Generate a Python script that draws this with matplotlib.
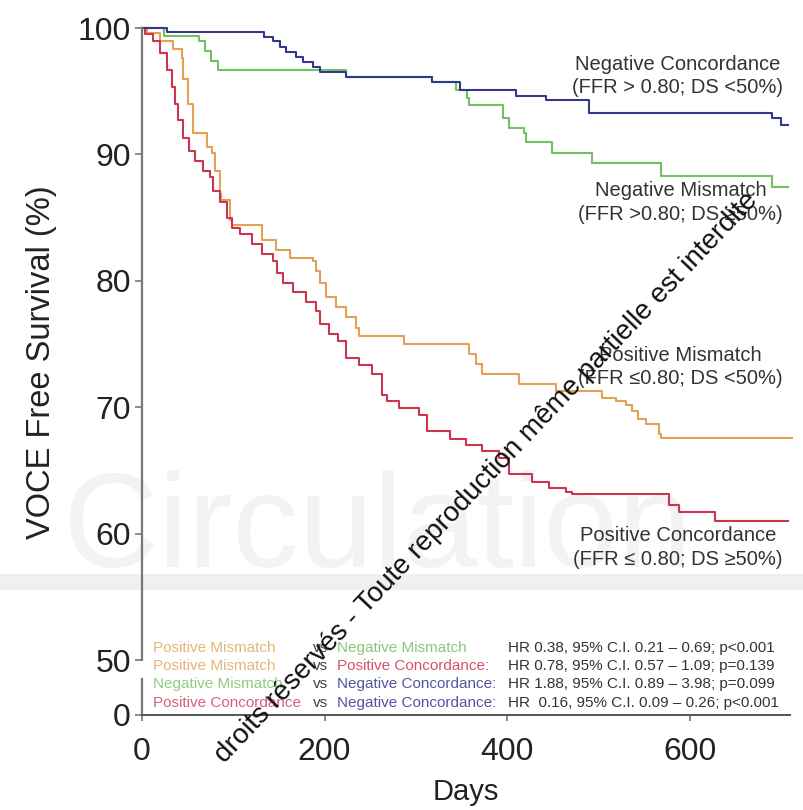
import matplotlib
matplotlib.use('Agg')
import matplotlib.pyplot as plt
from matplotlib.patches import Rectangle

plt.rcParams['font.family'] = ['Liberation Sans', 'DejaVu Sans']

# Kaplan-Meier curves (days, % free of VOCE)
pos_conc_days = [0, 3, 12, 20, 27, 33, 36, 39, 45, 52, 58, 67, 74, 78, 85, 93, 99, 107, 121, 132,
                 143, 148, 154, 165, 180, 191, 195, 205, 215, 224, 238, 252, 263, 268, 282, 304, 312, 337, 355, 373,
                 391, 402, 427, 446, 465, 471, 577, 588, 628, 708]
pos_conc_surv = [100, 99.5, 99.0, 98.0, 96.7, 95.3, 94.0, 92.7, 91.3, 90.3, 89.5, 88.7, 88.2, 87.1, 86.2, 85.0, 84.2, 83.7, 82.9, 82.1,
                 81.6, 80.6, 79.8, 79.1, 78.3, 77.6, 76.6, 75.8, 75.2, 73.9, 73.3, 72.6, 71.0, 70.5, 69.9, 69.4, 68.1, 67.5, 67.0, 66.5,
                 66.0, 64.7, 64.1, 63.6, 63.3, 63.1, 62.3, 61.7, 61.0, 61.0]

pos_mis_days = [0, 5, 20, 34, 44, 45, 50, 56, 71, 77, 80, 85, 87, 96, 99, 132, 147, 162, 187, 191,
                195, 202, 213, 224, 235, 238, 287, 358, 366, 373, 413, 454, 504, 519, 530, 537, 544, 552, 566, 569, 712]
pos_mis_surv = [100, 99.6, 99.0, 98.3, 97.6, 96.0, 94.0, 91.7, 90.6, 90.1, 88.7, 86.9, 86.4, 84.8, 84.4, 83.2, 82.4, 81.8, 81.6, 80.8,
                79.8, 78.7, 77.9, 77.1, 76.3, 75.6, 75.0, 74.2, 73.4, 72.6, 71.8, 71.3, 70.7, 70.5, 70.2, 69.7, 69.1, 68.7, 67.9, 67.6, 67.6]

neg_mis_days = [0, 24, 63, 69, 76, 83, 224, 318, 344, 356, 358, 395, 402, 419, 421, 449, 493, 569, 690, 708]
neg_mis_surv = [100, 99.4, 99.0, 98.2, 97.4, 96.7, 96.1, 95.7, 95.1, 94.5, 93.9, 92.9, 92.1, 91.7, 91.0, 90.1, 89.3, 88.3, 87.4, 87.4]

neg_conc_days = [0, 27, 134, 143, 151, 158, 169, 176, 187, 195, 224, 318, 348, 410, 443, 490, 690, 700, 708]
neg_conc_surv = [100, 99.7, 99.3, 99.0, 98.5, 98.1, 97.7, 97.3, 96.9, 96.5, 96.1, 95.7, 95.1, 94.6, 94.3, 93.3, 92.9, 92.3, 92.3]

orange = '#e3a253'
red = '#cc3552'
green = '#72c060'
blue = '#34378f'

y_ticks = [50, 60, 70, 80, 90, 100]
x_ticks = [0, 200, 400, 600]

curve_labels = [
    (96.2, 'Negative Concordance\n(FFR > 0.80; DS <50%)'),
    (86.2, 'Negative Mismatch\n(FFR >0.80; DS \u226550%)'),
    (73.2, 'Positive Mismatch\n(FFR \u22640.80; DS <50%)'),
    (58.9, 'Positive Concordance\n(FFR \u2264 0.80; DS \u226550%)'),
]

hr_rows = [
    ('Positive Mismatch', orange, 'Negative Mismatch', green, 'HR 0.38, 95% C.I. 0.21 \u2013 0.69; p<0.001'),
    ('Positive Mismatch', orange, 'Positive Concordance:', red, 'HR 0.78, 95% C.I. 0.57 \u2013 1.09; p=0.139'),
    ('Negative Mismatch', green, 'Negative Concordance:', blue, 'HR 1.88, 95% C.I. 0.89 \u2013 3.98; p=0.099'),
    ('Positive Concordance', red, 'Negative Concordance:', blue, 'HR  0.16, 95% C.I. 0.09 \u2013 0.26; p<0.001'),
]

W, H = 804, 810


def fx(px):
    return px / W


def fy(py):
    return 1 - py / H


fig = plt.figure(figsize=(8.04, 8.10), dpi=100)

# faint journal watermark behind the plot
fig.text(fx(62), fy(567), 'Circulation', fontsize=96, color='#f3f3f3', zorder=-2, va='baseline')
fig.patches.append(Rectangle((0, fy(590)), 1, fy(574) - fy(590), transform=fig.transFigure,
                             facecolor='#f0f0f0', edgecolor='none', zorder=-2))

ax = fig.add_axes([fx(142), fy(660), fx(790) - fx(142), fy(28) - fy(660)])
axb = fig.add_axes([fx(142), fy(715), fx(790) - fx(142), fy(679) - fy(715)])
for a in (ax, axb):
    a.patch.set_alpha(0)
    a.set_xlim(0, 710)
    for s in ('top', 'right'):
        a.spines[s].set_visible(False)
    a.spines['left'].set_color('#777777')
    a.spines['left'].set_linewidth(1.6)
    a.tick_params(axis='both', colors='#777777', labelcolor='#222222', labelsize=23, length=5, width=1.2)

ax.set_ylim(50, 100)
ax.spines['bottom'].set_visible(False)
ax.set_xticks([])
ax.set_yticks(y_ticks)
ax.tick_params(axis='y', pad=3)

axb.set_ylim(0, 1)
axb.set_yticks([0])
axb.spines['bottom'].set_color('#555555')
axb.spines['bottom'].set_linewidth(1.4)
axb.set_xticks(x_ticks)
axb.tick_params(axis='x', pad=12, length=4)
axb.tick_params(axis='y', pad=3)
axb.set_xlabel('Days', fontsize=21, color='#222222', labelpad=8)

ax.step(pos_mis_days, pos_mis_surv, where='post', color=orange, lw=1.5, clip_on=False)
ax.step(neg_mis_days, neg_mis_surv, where='post', color=green, lw=1.5, clip_on=False)
ax.step(pos_conc_days, pos_conc_surv, where='post', color=red, lw=1.5, clip_on=False)
ax.step(neg_conc_days, neg_conc_surv, where='post', color=blue, lw=1.5, clip_on=False)

for yv, txt in curve_labels:
    ax.text(702, yv, txt, ha='right', va='center', multialignment='center',
            fontsize=14.5, color='#333333', linespacing=1.3, clip_on=False)

fig.text(fx(42), fy(362), 'VOCE Free Survival (%)', rotation=90, ha='center', va='center',
         fontsize=23.5, color='#222222')

row_y = [648, 666, 684, 703]
for yy, (g1, c1, g2, c2, hr) in zip(row_y, hr_rows):
    fig.text(fx(153), fy(yy), g1, color=c1, fontsize=11, va='center', alpha=0.8)
    fig.text(fx(313), fy(yy), 'vs', color='#444444', fontsize=11, va='center')
    fig.text(fx(337), fy(yy), g2, color=c2, fontsize=11, va='center', alpha=0.85)
    fig.text(fx(508), fy(yy), hr, color='#333333', fontsize=11, va='center')

# copyright overlay stamped across the figure
fig.text(fx(487), fy(478), 'droits réservés - Toute reproduction même partielle est interdite',
         rotation=46.5, rotation_mode='anchor', ha='center', va='center',
         fontsize=20, color='#111111', zorder=10)

fig.savefig('out.png', dpi=100)
